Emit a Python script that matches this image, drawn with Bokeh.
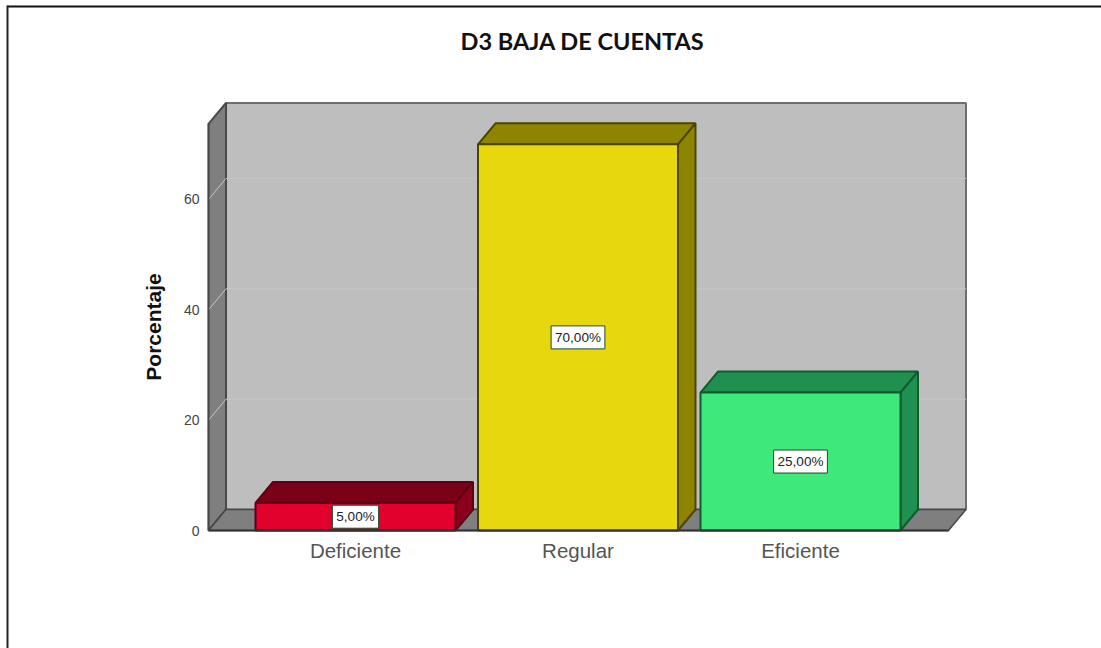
from bokeh.plotting import figure
from bokeh.embed import file_html
from bokeh.resources import INLINE
from bokeh.models import (Range1d, FixedTicker, Label)

categories = ["Deficiente", "Regular", "Eficiente"]
percentages = [5.0, 70.0, 25.0]
value_labels = ["5,00%", "70,00%", "25,00%"]
y_ticks = [0, 20, 40, 60]
front_colors = ["#e2002c", "#e6d80c", "#3ee87a"]
top_colors = ["#7a0018", "#8f8400", "#1f9050"]
side_colors = ["#8a001c", "#8f8400", "#1f9050"]
edge_colors = ["#5c0012", "#4a4400", "#0c5c2c"]

# pixel geometry of the plot scale
W, H = 1101, 648
X_C1, X_STEP = 355.0, 222.5
Y_ZERO, Y_UNIT = 530.0, 5.517
x_range = Range1d(1 + (0 - X_C1) / X_STEP, 1 + (W - X_C1) / X_STEP)
y_range = Range1d((Y_ZERO - H) / Y_UNIT, Y_ZERO / Y_UNIT)

DX = 17.5 / X_STEP          # depth of the 3-D box
DY = 21.0 / Y_UNIT
BAR_W = 200.0 / X_STEP
X0 = 1 + (208 - X_C1) / X_STEP
X1 = 1 + (948 - X_C1) / X_STEP
YMAX = 73.7

p = figure(width=W, height=H, x_range=x_range, y_range=y_range,
           output_backend="svg", toolbar_location=None,
           min_border=0, min_border_left=0, min_border_right=0,
           min_border_top=0, min_border_bottom=0,
           outline_line_color=None, background_fill_color="white",
           margin=(0, 0, 0, 0))
p.grid.visible = False

# walls and floor
p.patch([X0 + DX, X1 + DX, X1 + DX, X0 + DX], [DY, DY, YMAX + DY, YMAX + DY],
        fill_color="#bebebe", line_color="#6e6e6e", line_width=2)
p.patch([X0, X0 + DX, X0 + DX, X0], [0, DY, YMAX + DY, YMAX],
        fill_color="#7f7f7f", line_color="#484848", line_width=2)
p.patch([X0, X1, X1 + DX, X0 + DX], [0, 0, DY, DY],
        fill_color="#7f7f7f", line_color="#484848", line_width=1.5)

# grid lines on the walls
for t in y_ticks[1:]:
    p.line([X0, X0 + DX, X1 + DX], [t, t + DY, t + DY], line_color="#c6c6c6", line_width=1)

# bars
for i, v in enumerate(percentages):
    c = i + 1
    l, r = c - BAR_W / 2, c + BAR_W / 2
    p.patch([l, r, r + DX, l + DX], [v, v, v + DY, v + DY],
            fill_color=top_colors[i], line_color=edge_colors[i], line_width=2)
    p.patch([r, r + DX, r + DX, r], [0, DY, v + DY, v],
            fill_color=side_colors[i], line_color=edge_colors[i], line_width=2)
    p.quad(left=l, right=r, bottom=0, top=v,
           fill_color=front_colors[i], line_color=edge_colors[i], line_width=2)

# value labels
for i, v in enumerate(percentages):
    p.add_layout(Label(x=i + 1, y=v / 2, text=value_labels[i], text_align="center",
                       text_baseline="middle", text_font="Liberation Sans",
                       text_font_size="13.5px", text_color="#222222",
                       background_fill_color="white", border_line_color="#1c4a2a",
                       border_line_width=1, padding=4))

# axes
xa = p.xaxis[0]
xa.fixed_location = 0
xa.bounds = (X0, X1)
xa.ticker = FixedTicker(ticks=[1, 2, 3])
xa.major_label_overrides = {i + 1: c for i, c in enumerate(categories)}
xa.major_tick_line_color = None
xa.minor_tick_line_color = None
xa.axis_line_color = "#333333"
xa.axis_line_width = 2
xa.major_label_text_font = "Liberation Sans"
xa.major_label_text_font_size = "20.5px"
xa.major_label_text_color = "#555555"
xa.major_label_standoff = 2

ya = p.yaxis[0]
ya.fixed_location = X0
ya.bounds = (0, YMAX)
ya.ticker = FixedTicker(ticks=y_ticks)
ya.major_tick_line_color = None
ya.minor_tick_line_color = None
ya.axis_line_color = "#484848"
ya.axis_line_width = 1.5
ya.major_label_text_font = "Liberation Sans"
ya.major_label_text_font_size = "14px"
ya.major_label_text_color = "#444444"
ya.major_label_standoff = 3
ya.axis_label = "Porcentaje"
ya.axis_label_text_font = "Liberation Sans"
ya.axis_label_text_font_style = "bold"
ya.axis_label_text_font_size = "21px"
ya.axis_label_text_color = "#111111"
ya.axis_label_standoff = 16

# title and page frame
p.add_layout(Label(x=582, y=H - 40, x_units="screen", y_units="screen",
                   text="D3 BAJA DE CUENTAS", text_align="center", text_baseline="middle",
                   text_font="Lato", text_font_style="bold", text_font_size="23.5px",
                   text_color="#111111"))


def px_x(sx):
    return x_range.start + sx / X_STEP


def px_y(sy):
    return (Y_ZERO - sy) / Y_UNIT


p.line([px_x(7), px_x(W)], [px_y(6), px_y(6)], line_color="#111111", line_width=2)
p.line([px_x(7), px_x(7)], [px_y(5), px_y(H)], line_color="#222222", line_width=2)

open("out.html", "w").write(file_html(p, INLINE))
